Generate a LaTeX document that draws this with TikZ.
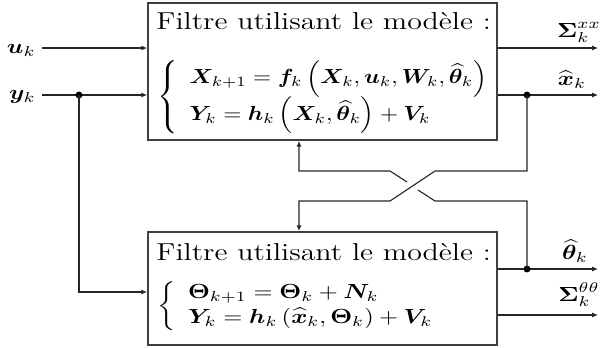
\documentclass[tikz,border=0pt]{standalone}
\usepackage{fontspec}
\usepackage{amsmath,bm,graphicx}
\usetikzlibrary{arrows.meta,fit}
\newcommand{\sx}[1]{\scalebox{1.2}[1]{#1}}
\newcommand{\sxt}[1]{\scalebox{1.22}[1]{#1}}
\newcommand{\sxe}[1]{\scalebox{1.14}[1]{#1}}
\begin{document}
\begin{tikzpicture}[x=0.49pt,y=-0.49pt,
  box/.style={draw=black!75, line width=0.8pt, inner sep=0pt},
  wire/.style={draw=black!85, line width=0.55pt},
  arr/.style={wire, -{Latex[length=2.9pt,width=2.5pt]}},
  lbl/.style={inner sep=0pt},
  ttl/.style={inner sep=0pt, font=\large},
  dotn/.style={circle, fill=black, inner sep=0pt, minimum size=3.4pt}]
\useasboundingbox (0,0) rectangle (600,347);
% boxes
\node[box, fit={(148,3) (497,140)}] (F1) {};
\node[box, fit={(148,232) (497,345)}] (F2) {};
% box texts
\node[ttl, anchor=base west] (T1) at (156,29) {\sxt{Filtre utilisant le modèle :}};
\node[lbl, anchor=west] (E1) at (157,97) {\sxe{$\left\{\begin{array}{l}
\bm{X}_{k+1} = \bm{f}_k\left(\bm{X}_k,\bm{u}_k,\bm{W}_k,\widehat{\bm{\theta}}_k\right)\\
\bm{Y}_k = \bm{h}_k\left(\bm{X}_k,\widehat{\bm{\theta}}_k\right)+\bm{V}_k
\end{array}\right.$}};
\node[ttl, anchor=base west] (T2) at (156,260) {\sxt{Filtre utilisant le modèle :}};
\node[lbl, anchor=west] (E2) at (157,306) {\sx{$\left\{\begin{array}{l}
\bm{\Theta}_{k+1} = \bm{\Theta}_k + \bm{N}_k\\
\bm{Y}_k = \bm{h}_k\left(\widehat{\bm{x}}_k,\bm{\Theta}_k\right)+\bm{V}_k
\end{array}\right.$}};
% inputs
\node[lbl, anchor=base east] (U) at (36,53) {\sx{$\bm{u}_k$}};
\node[lbl, anchor=base east] (Yk) at (36,99) {\sx{$\bm{y}_k$}};
\coordinate (uS) at (42,48);
\coordinate (yS) at (42,95);
\draw[arr] (uS) -- (uS -| F1.west);
\draw[arr] (yS) -- (yS -| F1.west);
\node[dotn] (d1) at (79,95) {};
\coordinate (c1) at (79,292);
\draw[arr] (d1.center) -- (c1) -- (c1 -| F2.west);
% outputs
\coordinate (o1) at (598,48);
\coordinate (o2) at (598,95);
\coordinate (o3) at (598,269);
\coordinate (o4) at (598,315);
\draw[arr] (o1 -| F1.east) -- (o1);
\draw[arr] (o2 -| F1.east) -- (o2);
\draw[arr] (o3 -| F2.east) -- (o3);
\draw[arr] (o4 -| F2.east) -- (o4);
\node[lbl, anchor=south] (L1) at (579,43) {\sx{$\bm{\Sigma}_k^{xx}$}};
\node[lbl, anchor=south] (L2) at (572,89) {\sx{$\widehat{\bm{x}}_k$}};
\node[lbl, anchor=south] (L3) at (575,263) {\sx{$\widehat{\bm{\theta}}_k$}};
\node[lbl, anchor=south] (L4) at (579,307) {\sx{$\bm{\Sigma}_k^{\theta\theta}$}};
\node[dotn] (d2) at (527,95) {};
\node[dotn] (d3) at (527,269) {};
% feedback
\coordinate (a1) at (527,171);
\coordinate (a2) at (435,171);
\coordinate (a3) at (390,201);
\coordinate (a4) at (299,201);
\draw[arr] (d2.center) -- (a1) -- (a2) -- (a3) -- (a4) -- (a4 |- F2.north);
\coordinate (b1) at (527,201);
\coordinate (b2) at (435,201);
\coordinate (g1) at (418,190);
\coordinate (g2) at (407,182);
\coordinate (b3) at (390,171);
\coordinate (b4) at (299,171);
\draw[wire] (d3.center) -- (b1) -- (b2) -- (g1);
\draw[arr] (g2) -- (b3) -- (b4) -- (b4 |- F1.south);
\end{tikzpicture}
\end{document}
